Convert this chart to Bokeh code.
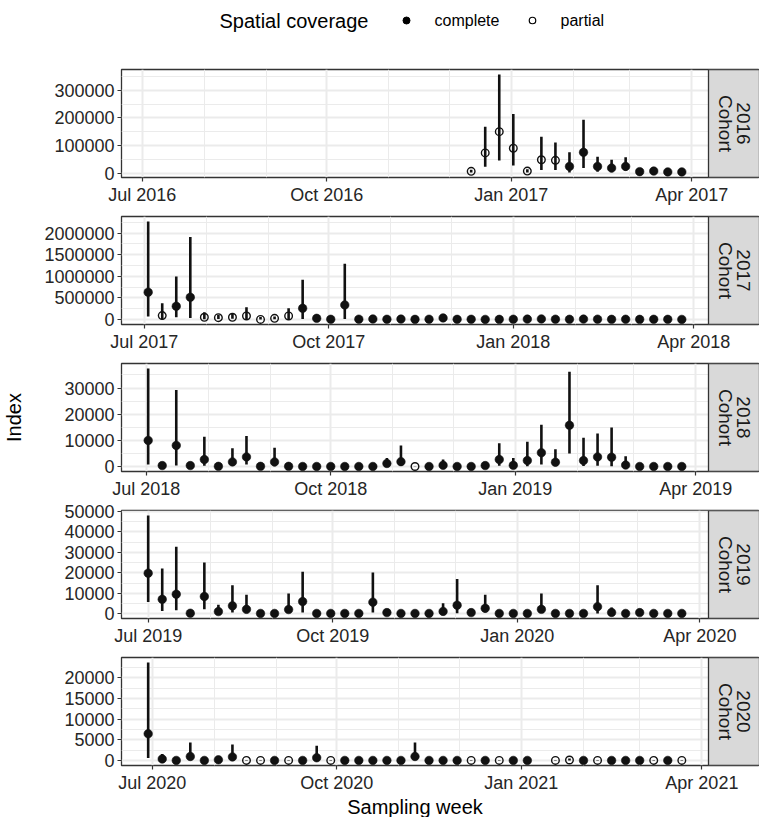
import math
import pandas as pd
from bokeh.plotting import figure
from bokeh.layouts import column
from bokeh.models import (ColumnDataSource, Range1d, FixedTicker, DatetimeTickFormatter,
                          BasicTickFormatter, BoxAnnotation, Label)
from bokeh.embed import file_html
from bokeh.resources import INLINE

# ---------------- data ----------------
cohorts = ["2016", "2017", "2018", "2019", "2020"]
season_start = ["2016-07-04", "2017-07-03", "2018-07-02", "2019-07-01", "2020-06-29"]
season_weeks = 39
first_week = ["2016-12-12", "2017-07-03", "2018-07-02", "2019-07-01", "2020-06-29"]

index_2016 = [6000, 73000, 150000, 90000, 7000, 48000, 46000, 24000, 75000, 24000, 18000, 24000, 5000, 7000, 4000, 4000]
lower_2016 = [2000, 23000, 45000, 27000, 2000, 11000, 11000, 2000, 18000, 5000, 3000, 8000, 2000, 3000, 1500, 1500]
upper_2016 = [12000, 168000, 358000, 214000, 14000, 132000, 111000, 75000, 193000, 59000, 48000, 57000, 9000, 12000, 7000, 7000]
coverage_2016 = "PPPPPPPCCCCCCCCC"

index_2017 = [633000, 93000, 309000, 517000, 54000, 46000, 54000, 85000, 5000, 30000, 85000, 262000, 30000, 8000, 340000,
              10000, 15000, 8000, 12000, 6000, 9000, 40000, 7000, 8000, 5000, 6000, 9000, 12000, 16000, 10000, 8000,
              12000, 11000, 7000, 9000, 6000, 8000, 7000, 5000]
lower_2017 = [70000, 5000, 54000, 39000, 10000, 15000, 20000, 5000, 1000, 10000, 5000, 15000, 10000, 2000, 15000,
              4000, 6000, 3000, 5000, 2000, 4000, 20000, 3000, 3000, 2000, 2000, 4000, 5000, 7000, 4000, 3000,
              5000, 5000, 3000, 4000, 2000, 3000, 3000, 2000]
upper_2017 = [2270000, 378000, 996000, 1907000, 170000, 110000, 130000, 286000, 60000, 70000, 262000, 919000, 60000, 20000, 1290000,
              25000, 35000, 20000, 30000, 15000, 22000, 80000, 18000, 20000, 12000, 15000, 22000, 30000, 38000, 25000, 20000,
              30000, 28000, 18000, 22000, 15000, 20000, 18000, 12000]
coverage_2017 = "CPCCPPPPPPPCCCC" + "CCCCCCCCCCCCCCCCCCCCCCCC"

index_2018 = [10000, 400, 8100, 400, 2700, 100, 1800, 3700, 100, 1800, 100, 50, 50, 50, 50, 50, 50, 1200, 1900, 50,
              50, 500, 50, 50, 400, 2700, 500, 2300, 5300, 1700, 15800, 2300, 3700, 3600, 600, 50, 50, 50, 50]
lower_2018 = [800, 50, 400, 100, 300, 20, 400, 800, 20, 100, 20, 10, 10, 10, 10, 10, 10, 100, 200, 10,
              10, 100, 10, 10, 50, 300, 50, 100, 800, 100, 5000, 200, 300, 100, 50, 10, 10, 10, 10]
upper_2018 = [37500, 1700, 29300, 1500, 11400, 300, 7000, 11700, 300, 7200, 300, 150, 150, 150, 150, 150, 150, 3300, 8100, 150,
              150, 2700, 150, 150, 1500, 8900, 3300, 9500, 16000, 6600, 36200, 11000, 12600, 14900, 4000, 150, 150, 150, 150]
coverage_2018 = "CCCCCCCCCCCCCCCCCCC" + "P" + "CCCCCCCCCCCCCCCCCCC"

index_2019 = [19800, 7000, 9500, 200, 8400, 1000, 3800, 2100, 100, 100, 2000, 5900, 100, 100, 100, 100, 5600, 500, 100, 100,
              100, 1100, 4100, 500, 2600, 100, 100, 100, 2100, 100, 100, 100, 3400, 600, 100, 500, 100, 100, 100]
lower_2019 = [5700, 1300, 1600, 50, 2100, 200, 500, 200, 20, 20, 300, 500, 20, 20, 20, 20, 500, 100, 20, 20,
              20, 200, 200, 100, 500, 20, 20, 20, 500, 20, 20, 20, 100, 100, 20, 100, 20, 20, 20]
upper_2019 = [48100, 22100, 32800, 600, 25100, 4300, 13900, 9200, 300, 300, 9800, 20500, 300, 300, 300, 300, 20200, 1500, 300, 300,
              300, 5100, 16900, 1500, 9200, 300, 300, 300, 9800, 300, 300, 300, 13900, 3000, 300, 1500, 300, 300, 300]
coverage_2019 = "CCCCCCCCCCCCCCCCCCCCCCCCCCCCCCCCCCCCCCC"

index_2020 = [6500, 400, 50, 1000, 50, 200, 900, 50, 50, 50, 50, 50, 700, 50, 50, 50, 50, 50, 50, 1000,
              50, 50, 50, 50, 50, 50, 50, 50, None, 50, 150, 50, 50, 50, 50, 50, 50, 50, 50]
lower_2020 = [650, 50, 10, 100, 10, 50, 100, 10, 10, 10, 10, 10, 100, 10, 10, 10, 10, 10, 10, 100,
              10, 10, 10, 10, 10, 10, 10, 10, None, 10, 50, 10, 10, 10, 10, 10, 10, 10, 10]
upper_2020 = [23750, 1600, 150, 4400, 150, 600, 3900, 150, 150, 150, 150, 150, 3600, 150, 150, 150, 150, 150, 150, 4400,
              150, 150, 150, 150, 150, 150, 150, 150, None, 150, 500, 150, 150, 150, 150, 150, 150, 150, 150]
coverage_2020 = "CCCCCCCPPCPCCPCCCCCCCCCPCPCC" + "-" + "PPCPCCCPCP"

y_major = {
    "2016": [0, 100000, 200000, 300000],
    "2017": [0, 500000, 1000000, 1500000, 2000000],
    "2018": [0, 10000, 20000, 30000],
    "2019": [0, 10000, 20000, 30000, 40000, 50000],
    "2020": [0, 5000, 10000, 15000, 20000],
}
y_minor = {
    "2016": [50000, 150000, 250000, 350000],
    "2017": [250000, 750000, 1250000, 1750000, 2250000],
    "2018": [5000, 15000, 25000, 35000],
    "2019": [5000, 15000, 25000, 35000, 45000],
    "2020": [2500, 7500, 12500, 17500, 22500],
}
x_major_months = ["07-01", "10-01", "01-01", "04-01"]
x_minor_months = ["08-01", "09-01", "11-01", "12-01", "02-01", "03-01"]

series = {
    "2016": (index_2016, lower_2016, upper_2016, coverage_2016),
    "2017": (index_2017, lower_2017, upper_2017, coverage_2017),
    "2018": (index_2018, lower_2018, upper_2018, coverage_2018),
    "2019": (index_2019, lower_2019, upper_2019, coverage_2019),
    "2020": (index_2020, lower_2020, upper_2020, coverage_2020),
}

# ---------------- style / layout ----------------
FONT = "Liberation Sans"
W = 759
LEFT = 121          # panel left edge (px)
PANEL_R = 708       # panel right edge / strip left edge (px)
TOP = 8
FRAME_H = 108
BOTTOM = 31
GRID = "#EBEBEB"
BORDER = "#333333"
TICK_TEXT = "#262626"
PANEL_W = PANEL_R - LEFT


def ms(ts):
    return pd.Timestamp(ts).value / 1e6


def month_date(year_first, md):
    y = year_first if md >= "07" else year_first + 1
    return f"{y}-{md}"


fmt_str = "%b %Y"
panels = []
for k, c in enumerate(cohorts):
    idx, lo, hi, cov = series[c]
    yr = int(c)
    dates = pd.date_range(first_week[k], periods=len(idx), freq="7D")
    rows = [(d, v, l, h, cv) for d, v, l, h, cv in zip(dates, idx, lo, hi, cov) if v is not None]
    comp = [r for r in rows if r[4] == "C"]
    part = [r for r in rows if r[4] == "P"]

    s0 = ms(season_start[k])
    s1 = s0 + 7 * (season_weeks - 1) * 86400000.0
    x0, x1 = s0 - 0.05 * (s1 - s0), s1 + 0.05 * (s1 - s0)
    per_px = (x1 - x0) / PANEL_W

    def px2x(px):
        return x0 + (px - LEFT) * per_px

    ylo = min(r[2] for r in rows)
    yhi = max(r[3] for r in rows)
    ys = yhi - ylo
    y0, y1 = ylo - 0.05 * ys, yhi + 0.05 * ys

    p = figure(width=W, height=TOP + FRAME_H + BOTTOM, output_backend="svg", toolbar_location=None,
               x_axis_type="datetime",
               x_range=Range1d(x0, px2x(W)), y_range=Range1d(y0, y1),
               min_border_left=LEFT, min_border_right=0,
               min_border_top=TOP, min_border_bottom=BOTTOM)
    p.background_fill_color = "white"
    p.border_fill_color = "white"
    p.outline_line_color = BORDER
    p.outline_line_width = 1.3

    xt = FixedTicker(ticks=[ms(month_date(yr, m)) for m in x_major_months],
                     minor_ticks=[ms(month_date(yr, m)) for m in x_minor_months])
    yt = FixedTicker(ticks=y_major[c], minor_ticks=y_minor[c])
    p.xaxis.ticker = xt
    p.xgrid.ticker = xt
    p.yaxis.ticker = yt
    p.ygrid.ticker = yt
    p.xaxis.formatter = DatetimeTickFormatter(
        microseconds=fmt_str, milliseconds=fmt_str, seconds=fmt_str, minsec=fmt_str,
        minutes=fmt_str, hourmin=fmt_str, hours=fmt_str, days=fmt_str,
        months=fmt_str, years=fmt_str)
    p.yaxis.formatter = BasicTickFormatter(use_scientific=False)

    for g in (p.xgrid, p.ygrid):
        g.grid_line_color = GRID
        g.grid_line_width = 2
        g.minor_grid_line_color = GRID
        g.minor_grid_line_width = 1
    for ax in (p.xaxis, p.yaxis):
        ax.axis_line_color = None
        ax.major_tick_line_color = BORDER
        ax.major_tick_line_width = 1.2
        ax.major_tick_out = 4
        ax.major_tick_in = 0
        ax.minor_tick_line_color = None
        ax.major_label_text_font = FONT
        ax.major_label_text_font_size = "18px"
        ax.major_label_text_color = TICK_TEXT
        ax.major_label_standoff = 3
        ax.axis_label_text_font = FONT
        ax.axis_label_text_font_style = "normal"
        ax.axis_label_text_font_size = "20px"
        ax.axis_label_text_color = "black"

    if k == 2:
        p.yaxis.axis_label = "Index"
        p.yaxis.axis_label_standoff = 36

    src_all = ColumnDataSource(dict(x=[r[0] for r in rows], lo=[r[2] for r in rows], hi=[r[3] for r in rows]))
    p.segment(x0="x", y0="lo", x1="x", y1="hi", source=src_all, line_color="#111111", line_width=2.6)
    src_c = ColumnDataSource(dict(x=[r[0] for r in comp], y=[r[1] for r in comp]))
    src_p = ColumnDataSource(dict(x=[r[0] for r in part], y=[r[1] for r in part]))
    p.scatter(x="x", y="y", source=src_c, size=8.5, marker="circle",
              fill_color="#111111", line_color="#111111", line_width=0.6)
    p.scatter(x="x", y="y", source=src_p, size=7.6, marker="circle",
              fill_color=None, line_color="#111111", line_width=1.4)

    # facet strip (right of the panel, inside the extended frame)
    p.add_layout(BoxAnnotation(left=px2x(PANEL_R),
                               fill_color="#D9D9D9", fill_alpha=1.0,
                               line_color=BORDER, line_width=1.3, line_alpha=1.0))
    cy = (y0 + y1) / 2
    p.add_layout(Label(x=px2x(743), y=cy, text=c,
                       angle=-math.pi / 2, text_align="center", text_baseline="middle",
                       text_font=FONT, text_font_size="19px", text_color="#1A1A1A"))
    p.add_layout(Label(x=px2x(725), y=cy, text="Cohort",
                       angle=-math.pi / 2, text_align="center", text_baseline="middle",
                       text_font=FONT, text_font_size="19px", text_color="#1A1A1A"))
    panels.append(p)


def blank(h):
    f = figure(width=W, height=h, output_backend="svg", toolbar_location=None,
               x_range=Range1d(LEFT, W), y_range=Range1d(h, 0),
               x_axis_location=None, y_axis_location=None,
               min_border_left=LEFT, min_border_right=0, min_border_top=0, min_border_bottom=0)
    f.outline_line_color = None
    f.xgrid.visible = False
    f.ygrid.visible = False
    return f


# ---------------- legend ----------------
LH = 69 - TOP
leg = blank(LH)
leg.add_layout(Label(x=219, y=20, text="Spatial coverage", text_baseline="middle",
                     text_font=FONT, text_font_size="20px", text_color="black"))
leg.scatter(x=[406], y=[20], size=7, marker="circle", fill_color="black", line_color="black")
leg.scatter(x=[532], y=[20], size=6.5, marker="circle", fill_color=None, line_color="black", line_width=1.2)
leg.add_layout(Label(x=434, y=20, text="complete", text_baseline="middle",
                     text_font=FONT, text_font_size="16px", text_color="black"))
leg.add_layout(Label(x=560, y=20, text="partial", text_baseline="middle",
                     text_font=FONT, text_font_size="16px", text_color="black"))

# ---------------- x axis title ----------------
TH = 817 - LH - len(panels) * (TOP + FRAME_H + BOTTOM)
xtitle = blank(TH)
xtitle.add_layout(Label(x=(LEFT + PANEL_R) / 2, y=TH / 2, text="Sampling week",
                        text_align="center", text_baseline="middle",
                        text_font=FONT, text_font_size="20px", text_color="black"))

layout = column(leg, *panels, xtitle, spacing=0)
open("out.html", "w").write(file_html(layout, INLINE))
